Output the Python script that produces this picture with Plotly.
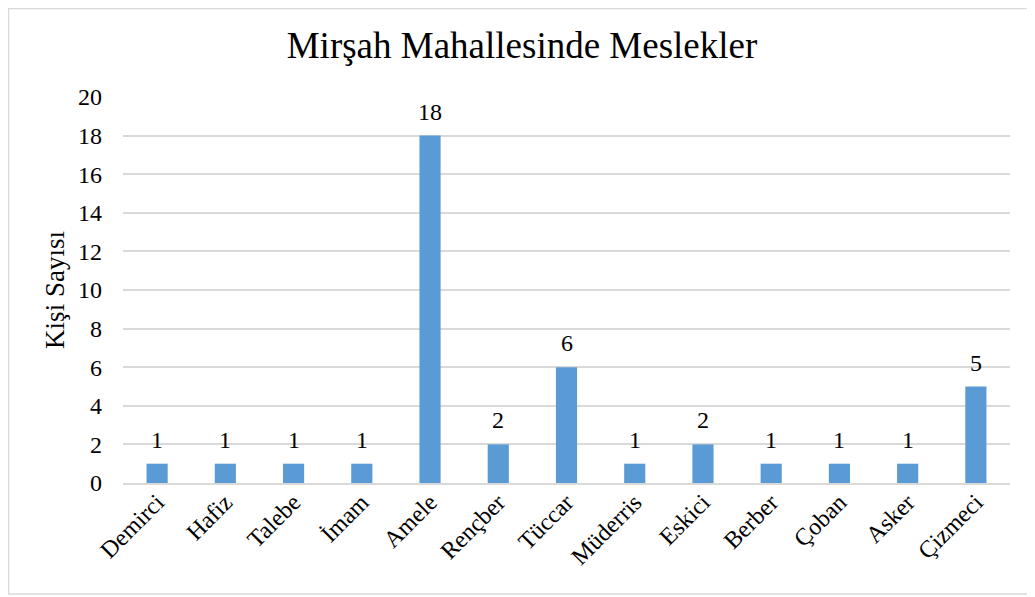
import plotly.graph_objects as go

categories = ["Demirci", "Hafiz", "Talebe", "İmam", "Amele", "Rençber", "Tüccar",
              "Müderris", "Eskici", "Berber", "Çoban", "Asker", "Çizmeci"]
values = [1, 1, 1, 1, 18, 2, 6, 1, 2, 1, 1, 1, 5]
y_ticks = [0, 2, 4, 6, 8, 10, 12, 14, 16, 18, 20]

FONT = "Liberation Serif, Times New Roman, serif"

# page body has an 8px default margin; compensate so screen positions match
OFF = 8
W, H = 1035 - OFF, 597 - OFF
ML, MR, MT, MB = 123 - OFF, 25, 97 - OFF, 114
pw, ph = W - ML - MR, H - MT - MB

fig = go.Figure()
fig.add_trace(go.Bar(
    x=categories, y=values,
    marker=dict(color="#5b9bd5", line=dict(width=0)),
    cliponaxis=False,
    hoverinfo="x+y",
))

for c, v in zip(categories, values):
    fig.add_annotation(x=c, y=v, text=str(v), showarrow=False,
                       yanchor="bottom", yshift=9,
                       font=dict(family=FONT, size=24, color="#000000"))

def px_x(p):  # figure px -> paper
    return (p - ML) / pw

def px_y(p):
    return (H - MB - p) / ph

fig.add_shape(type="rect", xref="paper", yref="paper",
              x0=px_x(0.5), x1=px_x(1028 - OFF), y0=px_y(594 - OFF), y1=px_y(0.5),
              line=dict(color="#d9d9d9", width=1.5), fillcolor="rgba(0,0,0,0)",
              layer="below")

fig.update_layout(
    width=W, height=H,
    margin=dict(l=ML, r=MR, t=MT, b=MB),
    paper_bgcolor="white", plot_bgcolor="white",
    bargap=0.69,
    showlegend=False,
    title=dict(text="Mirşah Mahallesinde Meslekler",
               x=px_x(522 - OFF), xref="paper", xanchor="center",
               y=1 - (45 - OFF) / H, yref="container", yanchor="middle",
               font=dict(family=FONT, size=37, color="#000000")),
    font=dict(family=FONT, color="#000000"),
)
fig.update_yaxes(range=[0, 20], tickvals=y_ticks, showgrid=True,
                 gridcolor="#d9d9d9", gridwidth=1.5, zeroline=False,
                 showline=False, ticks="", tickfont=dict(size=24, family=FONT),
                 ticklabelstandoff=20,
                 title=dict(text="Kişi Sayısı", font=dict(size=27, family=FONT), standoff=5))
fig.update_xaxes(showgrid=False, showline=True, linecolor="#d9d9d9", linewidth=1.5,
                 ticks="", tickangle=-45, tickfont=dict(size=24, family=FONT),
                 ticklabelstandoff=-6)

fig.write_html("out.html")
